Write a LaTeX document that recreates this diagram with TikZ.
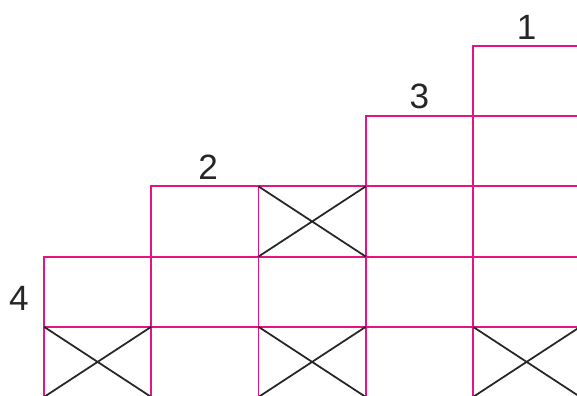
\documentclass[tikz,border=0pt]{standalone}
\usepackage{fontspec}
\setmainfont{Liberation Sans}
\usetikzlibrary{positioning}
\definecolor{gridpink}{RGB}{230,20,130}
\begin{document}
\begin{tikzpicture}[
        x=0.03cm, y=0.03cm,
        cell/.style={rectangle, draw=gridpink, line width=1.6pt, minimum width=3.2175cm, minimum height=2.106cm, inner sep=0pt, outer sep=0pt, anchor=south west},
        cross/.style={black!85, line width=1.5pt},
        num/.style={font=\fontsize{30}{36}\selectfont, text=black!85, inner sep=0pt}
        ]
        \useasboundingbox (0,0) rectangle (577,396);
        \clip (0,0) rectangle (577,396);

        % Columns of cells (column/number of cells)
        \foreach \c/\h in {0/2,1/3,2/3,3/4,4/5}{
            \foreach \k in {1,...,\h}{
                \node[cell] (c\c k\k) at ({44+107.25*\c},{-1+70.2*(\k-1)}) {};
            }
        }

        % Crossed cells
        \foreach \n in {c0k1,c2k1,c2k3,c4k1}{
            \draw[cross] (\n.south west) -- (\n.north east) (\n.north west) -- (\n.south east);
        }

        % Column numbers
        \node[num, above=0.2cm of c4k5] (n1) {1};
        \node[num, above=0.2cm of c3k4] (n3) {3};
        \node[num, above=0.2cm of c1k3, xshift=0.1cm] (n2) {2};
        \node[num, left=0.45cm of c0k2, yshift=-0.2cm] (n4) {4};

    \end{tikzpicture}
\end{document}
